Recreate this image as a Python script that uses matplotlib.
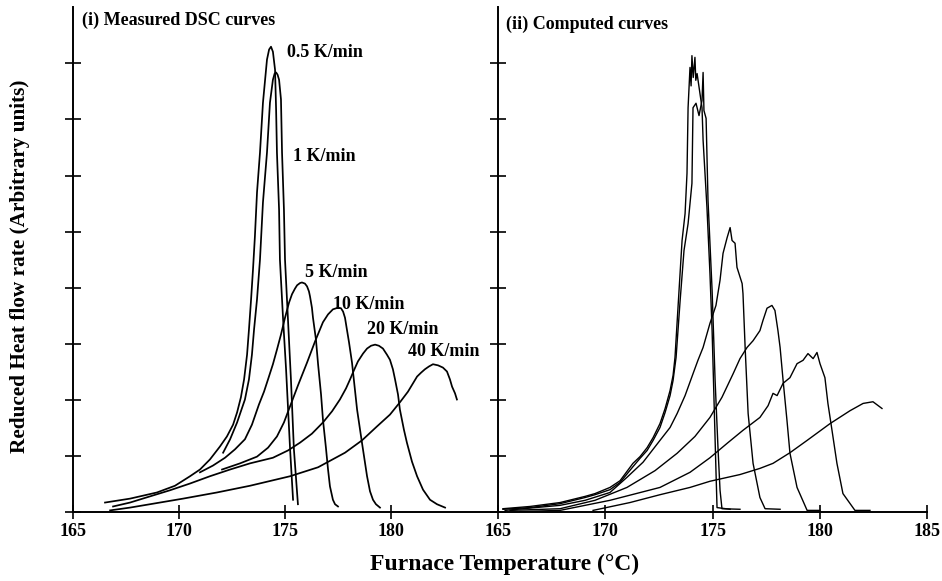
import numpy as np
import matplotlib
matplotlib.use("Agg")
import matplotlib.pyplot as plt

plt.rcParams['font.family'] = ['Liberation Serif', 'DejaVu Serif']
plt.rcParams['font.weight'] = 'bold'

# (i) measured DSC curves
m05_x = [166.51, 167.69, 168.96, 169.81, 170.52, 170.99, 171.46, 171.93, 172.26, 172.55, 172.74, 172.92,
         173.07, 173.21, 173.30, 173.40, 173.49, 173.58, 173.68, 173.82, 173.96, 174.15, 174.25, 174.34,
         174.43, 174.53, 174.58, 174.62, 174.72, 174.76, 174.91, 175.05, 175.24, 175.38]
m05_y = [0.16, 0.23, 0.34, 0.46, 0.63, 0.75, 0.93, 1.16, 1.34, 1.55, 1.77, 2.04,
         2.36, 2.80, 3.25, 3.79, 4.32, 4.91, 5.70, 6.41, 7.30, 8.07, 8.25, 8.30,
         8.21, 7.89, 7.18, 6.41, 5.39, 4.50, 3.43, 2.54, 1.11, 0.21]

m1_x = [172.08, 172.41, 172.74, 172.92, 173.11, 173.30, 173.44, 173.54, 173.68, 173.82, 173.96, 174.15,
        174.29, 174.43, 174.51, 174.58, 174.65, 174.72, 174.81, 174.86, 174.95, 175.00, 175.14, 175.28,
        175.42, 175.61]
m1_y = [1.05, 1.29, 1.59, 1.79, 2.00, 2.36, 2.80, 3.25, 3.79, 4.50, 5.52, 6.41,
        7.30, 7.71, 7.82, 7.84, 7.80, 7.71, 7.36, 6.41, 5.39, 4.50, 3.43, 2.36,
        1.11, 0.13]

m5_x = [170.99, 171.60, 172.17, 172.64, 173.11, 173.44, 173.77, 174.01, 174.20, 174.43, 174.62, 174.81,
        175.00, 175.19, 175.33, 175.47, 175.57, 175.71, 175.80, 175.94, 176.04, 176.13, 176.18, 176.27,
        176.32, 176.46, 176.56, 176.70, 176.79, 176.93, 177.03, 177.12, 177.26, 177.36, 177.50]
m5_y = [0.70, 0.82, 0.96, 1.11, 1.29, 1.55, 1.91, 2.14, 2.36, 2.63, 2.89, 3.16,
        3.46, 3.73, 3.88, 3.98, 4.04, 4.08, 4.09, 4.07, 4.02, 3.93, 3.84, 3.64,
        3.46, 3.07, 2.63, 2.09, 1.64, 1.14, 0.75, 0.45, 0.21, 0.13, 0.09]

m10_x = [172.03, 172.88, 173.68, 174.20, 174.62, 174.95, 175.24, 175.61, 176.04, 176.42, 176.79, 177.03,
         177.26, 177.50, 177.64, 177.74, 177.83, 177.92, 178.02, 178.16, 178.40, 178.63, 178.87, 179.01,
         179.15, 179.29, 179.48]
m10_y = [0.75, 0.86, 0.98, 1.14, 1.34, 1.59, 1.88, 2.25, 2.66, 3.04, 3.38, 3.52,
         3.61, 3.64, 3.63, 3.57, 3.46, 3.25, 3.02, 2.66, 1.82, 1.23, 0.63, 0.36,
         0.21, 0.13, 0.07]

m20_x = [166.89, 167.69, 168.63, 169.58, 170.52, 171.46, 172.41, 173.35, 174.43, 175.14, 175.71, 176.27,
         176.79, 177.22, 177.59, 177.88, 178.07, 178.25, 178.44, 178.68, 178.87, 179.06, 179.25, 179.43,
         179.62, 179.81, 179.95, 180.09, 180.19, 180.33, 180.42, 180.61, 180.75, 180.99, 181.23, 181.51,
         181.84, 182.17, 182.55]
m20_y = [0.09, 0.16, 0.27, 0.38, 0.50, 0.63, 0.75, 0.86, 0.96, 1.09, 1.23, 1.39,
         1.59, 1.79, 2.00, 2.20, 2.36, 2.52, 2.68, 2.82, 2.91, 2.96, 2.98, 2.96,
         2.91, 2.80, 2.71, 2.54, 2.36, 2.09, 1.82, 1.46, 1.23, 0.89, 0.63, 0.39,
         0.21, 0.13, 0.07]

m40_x = [166.75, 167.69, 168.63, 170.19, 171.79, 173.35, 175.24, 176.56, 177.83, 178.63, 179.34, 179.95,
         180.42, 180.80, 181.23, 181.42, 181.60, 181.79, 181.98, 182.22, 182.45, 182.64, 182.78, 182.88,
         183.02, 183.11]
m40_y = [0.02, 0.07, 0.13, 0.23, 0.34, 0.46, 0.63, 0.79, 1.05, 1.27, 1.52, 1.73,
         1.95, 2.14, 2.41, 2.48, 2.54, 2.59, 2.63, 2.61, 2.57, 2.50, 2.36, 2.23,
         2.11, 2.00]

# (ii) computed curves
c05_x = [165.23, 166.49, 167.89, 169.06, 169.52, 170.22, 170.69, 171.29, 171.62, 171.95, 172.23, 172.55,
         172.79, 173.02, 173.16, 173.25, 173.39, 173.58, 173.72, 173.81, 173.86, 173.95, 174.00, 174.04,
         174.10, 174.18, 174.22, 174.28, 174.51, 174.56, 174.74, 174.88, 174.98, 175.07, 175.16, 175.21,
         175.82]
c05_y = [0.05, 0.09, 0.16, 0.27, 0.32, 0.43, 0.55, 0.86, 0.98, 1.14, 1.32, 1.57,
         1.84, 2.16, 2.43, 2.75, 3.64, 4.84, 5.32, 6.04, 7.21, 7.93, 7.60, 8.14,
         7.75, 8.11, 7.70, 7.82, 7.21, 6.63, 5.43, 4.25, 3.23, 1.98, 0.73, 0.07,
         0.04]

c1_x = [165.23, 166.49, 167.89, 169.06, 169.52, 170.22, 170.69, 171.29, 171.62, 171.95, 172.23, 172.55,
        172.79, 173.02, 173.16, 173.30, 173.49, 173.67, 173.86, 174.04, 174.09, 174.23, 174.37, 174.51,
        174.56, 174.60, 174.70, 174.79, 174.98, 175.12, 175.26, 175.35, 175.44, 176.28]
c1_y = [0.04, 0.07, 0.14, 0.25, 0.30, 0.39, 0.52, 0.80, 0.95, 1.09, 1.27, 1.50,
        1.77, 2.07, 2.34, 2.75, 3.77, 4.66, 5.14, 5.86, 7.21, 7.29, 7.07, 7.34,
        7.84, 7.16, 7.02, 5.55, 3.95, 2.34, 1.09, 0.38, 0.05, 0.04]

c5_x = [165.33, 167.89, 169.06, 170.22, 171.01, 171.76, 172.55, 173.02, 173.35, 173.72, 174.09, 174.32,
        174.56, 174.88, 175.16, 175.35, 175.49, 175.68, 175.82, 175.91, 176.05, 176.14, 176.38, 176.42,
        176.52, 176.66, 176.89, 177.21, 177.45, 178.15]
c5_y = [0.02, 0.11, 0.20, 0.34, 0.61, 0.88, 1.27, 1.50, 1.75, 2.07, 2.46, 2.70,
        2.93, 3.36, 3.68, 4.13, 4.61, 4.89, 5.07, 4.84, 4.79, 4.36, 4.07, 3.89,
        2.93, 1.75, 0.86, 0.25, 0.05, 0.04]

c10_x = [165.56, 167.89, 169.52, 171.01, 172.32, 173.35, 174.18, 174.88, 175.44, 175.96, 176.28, 176.61,
         176.89, 177.21, 177.35, 177.54, 177.77, 177.91, 178.05, 178.15, 178.29, 178.47, 178.61, 178.94,
         179.41, 180.01]
c10_y = [0.02, 0.05, 0.20, 0.43, 0.73, 1.04, 1.34, 1.68, 2.04, 2.46, 2.73, 2.93,
         3.05, 3.23, 3.41, 3.63, 3.68, 3.59, 3.23, 2.93, 2.34, 1.63, 1.04, 0.43,
         0.02, 0.02]

c20_x = [166.03, 167.89, 170.22, 172.55, 173.95, 174.88, 175.72, 176.42, 177.21, 177.59, 177.82, 178.01,
         178.29, 178.61, 178.94, 179.22, 179.45, 179.69, 179.87, 180.01, 180.24, 180.38, 180.57, 180.80,
         181.08, 181.64, 182.34]
c20_y = [0.00, 0.02, 0.20, 0.43, 0.70, 0.96, 1.23, 1.45, 1.68, 1.89, 2.11, 2.07,
         2.29, 2.39, 2.64, 2.70, 2.82, 2.73, 2.84, 2.64, 2.39, 1.93, 1.45, 0.86,
         0.32, 0.02, 0.02]

c40_x = [169.43, 171.15, 172.55, 173.95, 174.88, 176.28, 177.21, 177.82, 178.61, 179.41, 180.48, 181.41,
         182.02, 182.48, 182.90]
c40_y = [0.02, 0.16, 0.30, 0.43, 0.54, 0.66, 0.77, 0.86, 1.05, 1.27, 1.57, 1.80,
         1.93, 1.96, 1.84]

rate_labels = ['0.5 K/min', '1 K/min', '5 K/min', '10 K/min', '20 K/min', '40 K/min']
label_x = [175.09, 175.38, 175.94, 177.26, 178.87, 180.80]
label_y = [8.20, 6.34, 4.27, 3.70, 3.25, 2.86]

fig = plt.figure(figsize=(9.42, 5.81), dpi=100)
ax1 = fig.add_axes([0.0775, 0.1196, 0.4501, 0.8675])
ax2 = fig.add_axes([0.5287, 0.1196, 0.4554, 0.8675])

measured = [(m05_x, m05_y), (m1_x, m1_y), (m5_x, m5_y), (m10_x, m10_y), (m20_x, m20_y), (m40_x, m40_y)]
computed = [(c05_x, c05_y), (c1_x, c1_y), (c5_x, c5_y), (c10_x, c10_y), (c20_x, c20_y), (c40_x, c40_y)]

for x, y in measured:
    ax1.plot(x, y, color='black', lw=1.25, solid_joinstyle='round')
for x, y in computed:
    ax2.plot(x, y, color='black', lw=1.0)

for txt, tx, ty in zip(rate_labels, label_x, label_y):
    ax1.text(tx, ty, txt, fontsize=13, fontweight='bold', va='center', ha='left')

for ax in (ax1, ax2):
    ax.set_xlim(165, 185)
    ax.set_ylim(0, 9)
    ax.spines['top'].set_visible(False)
    ax.spines['right'].set_visible(False)
    for s in ('left', 'bottom'):
        ax.spines[s].set_linewidth(1.4)
    ax.set_yticks(np.arange(0, 9))
    ax.set_yticklabels([])
    ax.tick_params(axis='y', direction='inout', length=11, width=1.2)
    ax.tick_params(axis='x', direction='inout', length=10, width=1.2, pad=3, labelsize=13)

ax1.set_xticks([165, 170, 175, 180])
ax2.set_xticks([165, 170, 175, 180, 185])
for ax in (ax1, ax2):
    for lab in ax.get_xticklabels():
        lab.set_fontweight('bold')

ax1.text(0.021, 0.974, '(i) Measured DSC curves', transform=ax1.transAxes,
         fontsize=13, fontweight='bold', va='center', ha='left')
ax2.text(0.019, 0.966, '(ii) Computed curves', transform=ax2.transAxes,
         fontsize=13, fontweight='bold', va='center', ha='left')

fig.text(0.021, 0.542, 'Reduced Heat flow rate (Arbitrary units)', rotation=90,
         fontsize=15.3, fontweight='bold', va='center', ha='center')
fig.text(0.536, 0.028, 'Furnace Temperature (°C)', fontsize=17, fontweight='bold',
         va='center', ha='center')

fig.savefig('out.png', dpi=100, facecolor='white')
